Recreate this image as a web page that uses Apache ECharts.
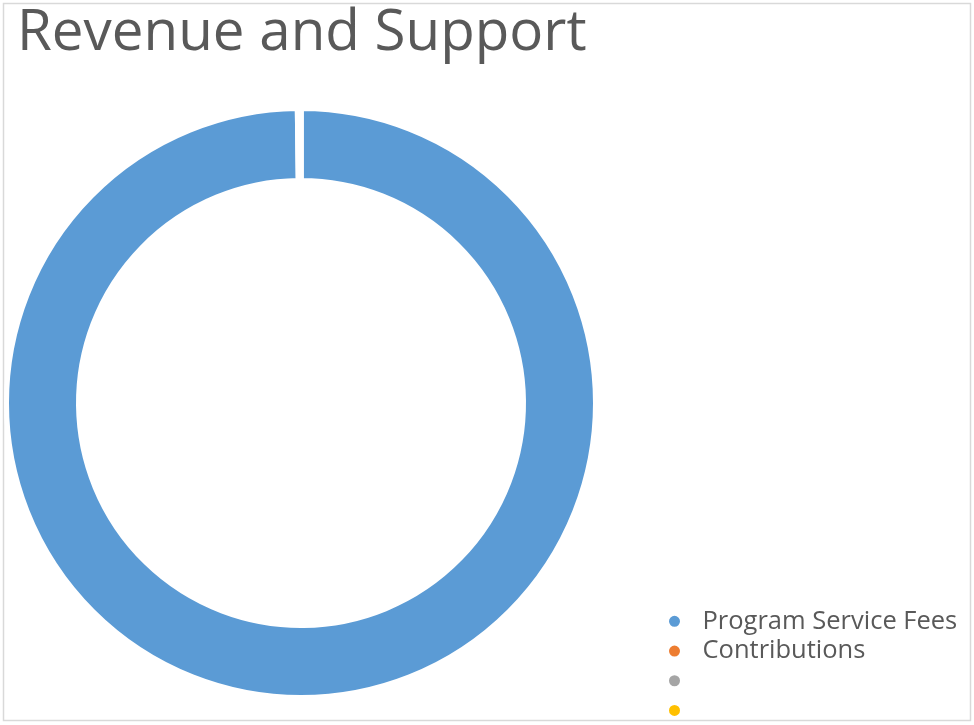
<!DOCTYPE html>
<html><head><meta charset="utf-8">
<script src="https://cdn.jsdelivr.net/npm/echarts@6/dist/echarts.min.js"></script>
<style>html,body{margin:0;padding:0;background:#fff}#c{width:974px;height:725px}</style>
</head><body><div id="c"></div>
<script>
const categories = ['Program Service Fees', 'Contributions', ' ', '  '];
const values = [99.8, 0.2, 0, 0];
const colors = ['#5b9bd5', '#ed7d31', '#a5a5a5', '#ffc000'];

const chart = echarts.init(document.getElementById('c'));
chart.setOption({
  animation: false,
  title: {
    text: 'Revenue and Support', left: 12, top: 0,
    textStyle: { fontFamily: 'Open Sans', fontWeight: 'normal', fontSize: 56.5, color: '#595959' }
  },
  legend: {
    orient: 'vertical', left: 667, top: 607, height: 200, padding: 0,
    icon: 'circle', itemWidth: 16, itemHeight: 13, itemGap: 1,
    textStyle: { fontFamily: 'Open Sans', fontSize: 25.5, lineHeight: 28.7, color: '#595959', padding: [0, 0, 0, 15] },
    data: categories
  },
  graphic: [{
    type: 'rect', shape: { x: 3.5, y: 3.5, width: 967, height: 717 },
    style: { fill: 'none', stroke: '#d9d9d9', lineWidth: 1.5 }, silent: true
  }],
  series: [{
    type: 'pie', center: [301, 403], radius: [222.5, 294.5],
    startAngle: 90, clockwise: true, label: { show: false }, labelLine: { show: false },
    itemStyle: { borderColor: '#fff', borderWidth: 5 },
    emphasis: { disabled: true },
    data: categories.map((n, i) => ({ name: n, value: values[i], itemStyle: { color: colors[i] } }))
  }]
});
</script></body></html>
